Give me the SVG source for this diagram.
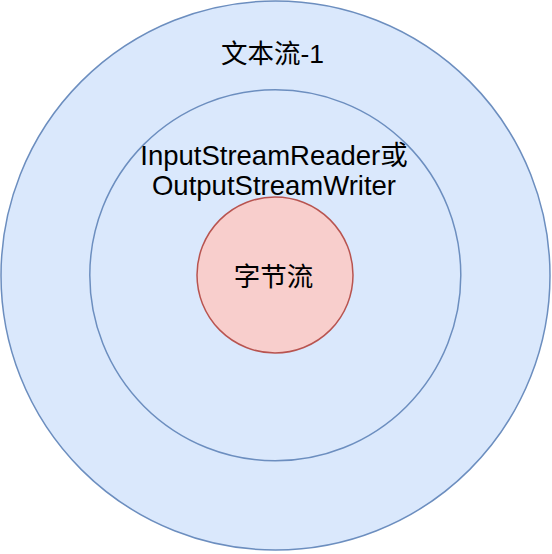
<svg xmlns="http://www.w3.org/2000/svg" width="552" height="554" viewBox="0 0 552 554">
<style>
.blue{fill:#dae8fc;stroke:#6c8ebf;stroke-width:1.5}
.red{fill:#f8cecc;stroke:#b85450;stroke-width:1.5}
.t{font-family:"Liberation Sans","Noto Sans CJK SC",sans-serif;font-size:26.5px;fill:#000000;text-anchor:middle}
.l{font-size:27.5px}
</style>
<rect width="552" height="554" fill="#ffffff"/>
<g id="outer">
<circle class="blue" cx="275.5" cy="275.5" r="274.5"/>
<text class="t" x="272.5" y="63">文本流-1</text>
</g>
<g id="middle">
<circle class="blue" cx="275.3" cy="275.3" r="185.5"/>
<text class="t l" x="274" y="165">InputStreamReader或</text>
<text class="t l" x="274" y="195">OutputStreamWriter</text>
</g>
<g id="inner">
<circle class="red" cx="275" cy="275" r="78"/>
<text class="t" x="273.5" y="286">字节流</text>
</g>
<g id="connectors"></g>
</svg>
